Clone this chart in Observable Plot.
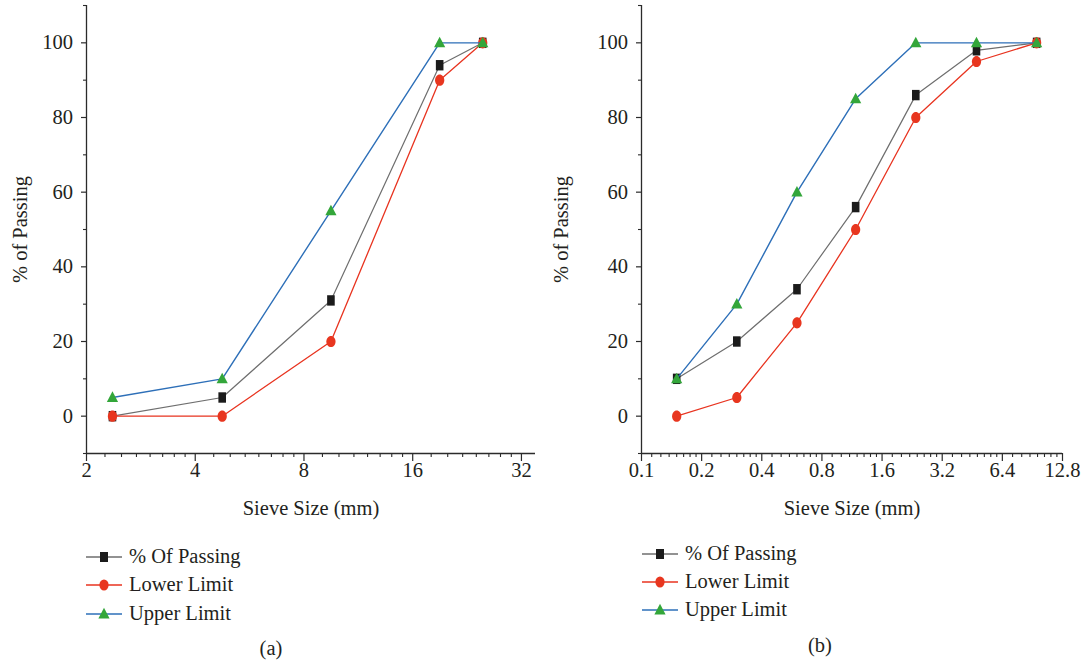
<!DOCTYPE html>
<html>
<head>
<meta charset="utf-8">
<script src="https://cdn.jsdelivr.net/npm/d3@7"></script>
<script src="https://cdn.jsdelivr.net/npm/@observablehq/plot@0.6"></script>
<style>
  html, body { margin: 0; padding: 0; background: #fff; }
  #root { position: relative; width: 1082px; height: 665px; overflow: hidden; font-family: "Liberation Serif", "DejaVu Serif", serif; color: #231f20; }
  .panel { position: absolute; top: 0; }
  .leg { position: absolute; display: flex; align-items: center; font-size: 20.5px; white-space: nowrap; }
  .leg svg { margin-right: 7px; }
  .cap { position: absolute; font-size: 20.5px; transform: translate(-50%, -50%); }
</style>
</head>
<body>
<div id="root"></div>
<script>
// ---- data ----
const seriesNames = ["% Of Passing", "Lower Limit", "Upper Limit"];

const sizesA   = [2.36, 4.75, 9.5, 19, 25];
const passingA = [0, 5, 31, 94, 100];
const lowerA   = [0, 0, 20, 90, 100];
const upperA   = [5, 10, 55, 100, 100];

const sizesB   = [0.15, 0.3, 0.6, 1.18, 2.36, 4.75, 9.5];
const passingB = [10, 20, 34, 56, 86, 98, 100];
const lowerB   = [0, 5, 25, 50, 80, 95, 100];
const upperB   = [10, 30, 60, 85, 100, 100, 100];

const xTicksA = [2, 4, 8, 16, 32];
const xTicksB = [0.1, 0.2, 0.4, 0.8, 1.6, 3.2, 6.4, 12.8];
const yTicks  = [0, 20, 40, 60, 80, 100];
const yMinorTicks = [-10, 10, 30, 50, 70, 90, 110];
const xDomainA = [2, 35];
const xDomainB = [0.1, 12.8];
const yDomain = [-10, 110];
const xLabel = "Sieve Size (mm)";
const yLabel = "% of Passing";
const captions = ["(a)", "(b)"];

// ---- styles ----
const lineColors = ["#6e6e6e", "#e8331f", "#2d6fb8"];
const markColors = ["#1b1b1b", "#e8361f", "#33a63a"];
const lineWidths = [1.2, 1.3, 1.4];
const axisColor = "#2b2b2b";
const FONT = "Liberation Serif, DejaVu Serif, serif";
const FS = 20.5;

const squareSym = { draw(c) { const w = 3.8, h = 5.2; c.rect(-w, -h, 2 * w, 2 * h); } };
const ellipseSym = { draw(c) {
  const rx = 4.6, ry = 5.6, k = 0.5523;
  c.moveTo(rx, 0);
  c.bezierCurveTo(rx, k * ry, k * rx, ry, 0, ry);
  c.bezierCurveTo(-k * rx, ry, -rx, k * ry, -rx, 0);
  c.bezierCurveTo(-rx, -k * ry, -k * rx, -ry, 0, -ry);
  c.bezierCurveTo(k * rx, -ry, rx, -k * ry, rx, 0);
  c.closePath();
} };
const triSym = { draw(c) { c.moveTo(0, -6.2); c.lineTo(5.6, 4.4); c.lineTo(-5.6, 4.4); c.closePath(); } };
const symbols = [squareSym, ellipseSym, triSym];

function minorLog2(ticks) {
  const out = [];
  for (let i = 0; i < ticks.length - 1; i++)
    for (let k = 1; k < 8; k++) out.push(ticks[i] * (1 + k / 8));
  return out;
}

function makePanel(sizes, seriesValues, xTicks, xDomain, marginLeft, marginRight) {
  const marks = [];
  marks.push(Plot.ruleX([xDomain[0]], { stroke: axisColor, strokeWidth: 1.3 }));
  marks.push(Plot.ruleY([yDomain[0]], { stroke: axisColor, strokeWidth: 1.3 }));
  marks.push(Plot.axisX({ ticks: xTicks, tickSize: 8, tickPadding: 1, tickFormat: d => String(d), label: null, stroke: axisColor, strokeWidth: 1.2, fill: "#231f20" }));
  marks.push(Plot.axisX({ ticks: minorLog2(xTicks), tickSize: 4, tickFormat: () => "", label: null, stroke: axisColor, strokeWidth: 1.1 }));
  marks.push(Plot.axisY({ ticks: yTicks, tickSize: 5, tickPadding: 8.5, tickFormat: d => String(d), label: null, stroke: axisColor, strokeWidth: 1.2, fill: "#231f20" }));
  marks.push(Plot.axisY({ ticks: yMinorTicks, tickSize: 3, tickFormat: () => "", label: null, stroke: axisColor, strokeWidth: 1.1 }));
  marks.push(Plot.text([xLabel], { text: d => d, frameAnchor: "bottom", textAnchor: "middle", dy: 55, lineAnchor: "middle", fill: "#231f20", fontSize: FS }));
  marks.push(Plot.text([yLabel], { text: d => d, frameAnchor: "left", textAnchor: "middle", rotate: -90, dx: -(marginLeft - 20), lineAnchor: "middle", fill: "#231f20", fontSize: FS }));
  seriesValues.forEach((vals, i) => {
    const data = sizes.map((s, j) => ({ s, v: vals[j] }));
    marks.push(Plot.line(data, { x: "s", y: "v", stroke: lineColors[i], strokeWidth: lineWidths[i] }));
    marks.push(Plot.dot(data, { x: "s", y: "v", symbol: symbols[i], fill: markColors[i], stroke: "none", r: 5 }));
  });
  return Plot.plot({
    width: 541,
    height: 530,
    marginLeft, marginRight,
    marginTop: 5,
    marginBottom: 77,
    x: { type: "log", base: 2, domain: xDomain },
    y: { domain: yDomain },
    style: { fontFamily: FONT, fontSize: FS + "px", color: "#231f20", background: "transparent" },
    marks
  });
}

const root = document.getElementById("root");

function addPanel(left, plot) {
  const d = document.createElement("div");
  d.className = "panel";
  d.style.left = left + "px";
  d.appendChild(plot);
  root.appendChild(d);
}

addPanel(0, makePanel(sizesA, [passingA, lowerA, upperA], xTicksA, xDomainA, 86, 6));
addPanel(541, makePanel(sizesB, [passingB, lowerB, upperB], xTicksB, xDomainB, 100, 20));

const legendSymbols = [
  '<rect x="14" y="5" width="8" height="10" fill="' + markColors[0] + '"/>',
  '<ellipse cx="18" cy="10" rx="4.6" ry="5.6" fill="' + markColors[1] + '"/>',
  '<path d="M18 3.8 L23.6 14.4 L12.4 14.4 Z" fill="' + markColors[2] + '"/>'
];

function addLegend(x, ys) {
  seriesNames.forEach((name, i) => {
    const row = document.createElement("div");
    row.className = "leg";
    row.style.left = x + "px";
    row.style.top = (ys[i] - 10) + "px";
    row.innerHTML = '<svg width="36" height="20"><line x1="0" x2="36" y1="10" y2="10" stroke="' + lineColors[i] + '" stroke-width="' + (lineWidths[i] + 0.2) + '"/>' + legendSymbols[i] + '</svg><span>' + name + '</span>';
    root.appendChild(row);
  });
}
addLegend(86, [555, 583, 612]);
addLegend(642, [552, 580, 608]);

function addCaption(x, y, text) {
  const c = document.createElement("div");
  c.className = "cap";
  c.style.left = x + "px";
  c.style.top = y + "px";
  c.textContent = text;
  root.appendChild(c);
}
addCaption(271, 648, captions[0]);
addCaption(820, 645, captions[1]);
</script>
</body>
</html>
